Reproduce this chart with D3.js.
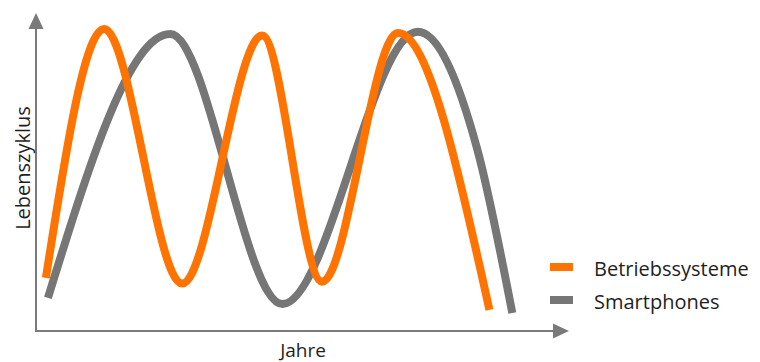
<!DOCTYPE html>
<html>
<head>
<meta charset="utf-8">
<script src="https://cdn.jsdelivr.net/npm/d3@7"></script>
<style>
  html, body { margin: 0; padding: 0; background: #fff; }
  svg { display: block; }
  text { font-family: "Open Sans", "DejaVu Sans", sans-serif; fill: #1e1e1e; }
</style>
</head>
<body>
<svg id="chart" width="760" height="362"></svg>
<script>
// ---- Data (x: Jahre, y: Lebenszyklus, arbitrary units 0-100) ----
const seriesNames = ["Betriebssysteme", "Smartphones"];
const seriesColors = ["#FF7300", "#767676"];
const betriebssystemeX = [1.9, 13.1, 28.1, 43.5, 55.0, 69.6, 87.2];
const betriebssystemeY = [17.1, 97.4, 15.3, 95.3, 15.9, 96.1, 6.8];
const smartphonesX = [2.3, 25.8, 47.4, 73.4, 84.8, 91.6];
const smartphonesY = [10.7, 95.8, 8.7, 96.5, 59.0, 5.8];
const xAxisLabel = "Jahre";
const yAxisLabel = "Lebenszyklus";

const svg = d3.select("#chart");
const x = d3.scaleLinear().domain([0, 100]).range([36, 556]);
const y = d3.scaleLinear().domain([0, 100]).range([331, 21]);

const axisColor = "#7a7a7a";

// axes (no ticks)
const xAxis = svg.append("g").attr("transform", `translate(0,${y(0)})`)
  .call(d3.axisBottom(x).tickValues([]).tickSizeOuter(0));
xAxis.select(".domain").attr("stroke", axisColor).attr("stroke-width", 2)
  .attr("d", `M${x(0)},0H${x(100) + 2}`);
const yAxis = svg.append("g").attr("transform", `translate(${x(0)},0)`)
  .call(d3.axisLeft(y).tickValues([]).tickSizeOuter(0));
yAxis.select(".domain").attr("stroke", axisColor).attr("stroke-width", 2)
  .attr("d", `M0,${y(0) + 1}V${y(100) + 4}`);

// arrowheads
const x0 = x(0), y0 = y(0);
const xTip = x(100) + 13, yTip = y(100) - 8;
svg.append("path").attr("fill", axisColor)
  .attr("d", `M${xTip},${y0}L${xTip - 16},${y0 - 7.5}L${xTip - 16},${y0 + 7.5}Z`);
svg.append("path").attr("fill", axisColor)
  .attr("d", `M${x0},${yTip}L${x0 - 7.5},${yTip + 16}L${x0 + 7.5},${yTip + 16}Z`);

// lines
const line = d3.line().x(d => x(d[0])).y(d => y(d[1])).curve(d3.curveMonotoneX);
const smart = d3.zip(smartphonesX, smartphonesY);
const betr = d3.zip(betriebssystemeX, betriebssystemeY);
svg.append("path").datum(smart)
  .attr("fill", "none").attr("stroke", seriesColors[1]).attr("stroke-width", 8)
  .attr("stroke-linejoin", "round").attr("d", line);
svg.append("path").datum(betr)
  .attr("fill", "none").attr("stroke", seriesColors[0]).attr("stroke-width", 8)
  .attr("stroke-linejoin", "round").attr("d", line);

// axis labels
svg.append("text").attr("x", 303).attr("y", 357).attr("text-anchor", "middle")
  .attr("font-size", 19).text(xAxisLabel);
svg.append("text").attr("transform", `translate(30,168) rotate(-90)`).attr("text-anchor", "middle")
  .attr("font-size", 20).text(yAxisLabel);

// legend
const legend = svg.append("g");
seriesNames.forEach((name, i) => {
  const g = legend.append("g").attr("transform", `translate(550,${267 + i * 33})`);
  g.append("rect").attr("x", 0).attr("y", -4).attr("width", 23).attr("height", 8).attr("fill", seriesColors[i]);
  g.append("text").attr("x", 44).attr("y", 9).attr("font-size", 20).text(name);
});
</script>
</body>
</html>
